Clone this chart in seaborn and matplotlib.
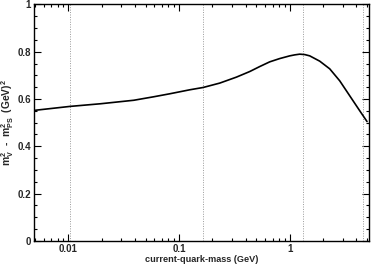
import matplotlib

matplotlib.use("Agg")
import matplotlib.pyplot as plt
import matplotlib.ticker as mticker
import seaborn as sns

# current-quark mass (GeV) and m_V^2 - m_PS^2 (GeV^2)
quark_mass = [0.00488, 0.01031, 0.01953, 0.03903, 0.05916, 0.0825, 0.1251,
              0.1649, 0.2333, 0.3301, 0.4352, 0.5359, 0.6597, 0.8121, 1.0,
              1.110, 1.231, 1.366, 1.516, 1.866, 2.298, 2.828, 3.482, 4.287,
              4.989]
mass_diff = [0.5515, 0.5684, 0.5797, 0.5945, 0.6093, 0.6219, 0.6388, 0.6485,
             0.6671, 0.6924, 0.7160, 0.7371, 0.7570, 0.7709, 0.7823, 0.7865,
             0.7895, 0.7878, 0.7823, 0.7599, 0.7274, 0.6768, 0.6135, 0.5502,
             0.5046]

# dotted reference masses
marker_masses = [0.0104, 0.165, 1.32, 4.6]

x_ticks = [0.01, 0.1, 1]
x_tick_labels = ["0.01", "0.1", "1"]
y_ticks = [0, 0.2, 0.4, 0.6, 0.8, 1]
y_tick_labels = ["0", "0.2", "0.4", "0.6", "0.8", "1"]


def main() -> None:
    sns.set_style("ticks")
    plt.rcParams["font.family"] = ["Liberation Sans", "DejaVu Sans"]
    plt.rcParams["font.weight"] = "bold"
    plt.rcParams["mathtext.fontset"] = "custom"
    plt.rcParams["mathtext.rm"] = "Liberation Sans:bold"
    plt.rcParams["mathtext.it"] = "Liberation Sans:bold"
    plt.rcParams["mathtext.default"] = "rm"

    fig = plt.figure(figsize=(3.74, 2.65), dpi=100)
    ax = fig.add_axes([34 / 374, 1 - 240.8 / 265, 335 / 374, 236.4 / 265])

    for m in marker_masses:
        ax.axvline(m, color="#9a9a9a", linestyle=(0, (1, 1.5)), linewidth=0.7, zorder=1)

    sns.lineplot(x=quark_mass, y=mass_diff, color="black", linewidth=1.2, ax=ax, zorder=3)

    ax.set_xscale("log")
    ax.set_xlim(0.0049, 5.2)
    ax.set_ylim(0, 1)
    ax.set_xticks(x_ticks)
    ax.set_xticklabels(x_tick_labels)
    ax.set_yticks(y_ticks)
    ax.set_yticklabels(y_tick_labels)
    ax.yaxis.set_minor_locator(mticker.MultipleLocator(0.05))
    ax.xaxis.set_minor_locator(mticker.LogLocator(base=10, subs=range(2, 10)))
    ax.xaxis.set_minor_formatter(mticker.NullFormatter())

    ax.tick_params(which="both", direction="in", top=True, right=True,
                   labelsize=7, pad=2, width=0.8, color="black")
    ax.tick_params(which="major", length=5)
    ax.tick_params(which="minor", length=2.5)
    for spine in ax.spines.values():
        spine.set_linewidth(1.0)
        spine.set_color("black")

    ax.set_xlabel("current-quark-mass (GeV)", fontsize=6.6, fontweight="bold", labelpad=1)
    ax.set_ylabel(r"m$_V^2$  -  m$_{PS}^2$  (GeV)$^2$", fontsize=7.4, fontweight="bold")
    ax.yaxis.set_label_coords(-0.053, 0.5)

    fig.savefig("out.png", dpi=100)
    plt.close(fig)


if __name__ == "__main__":
    main()
